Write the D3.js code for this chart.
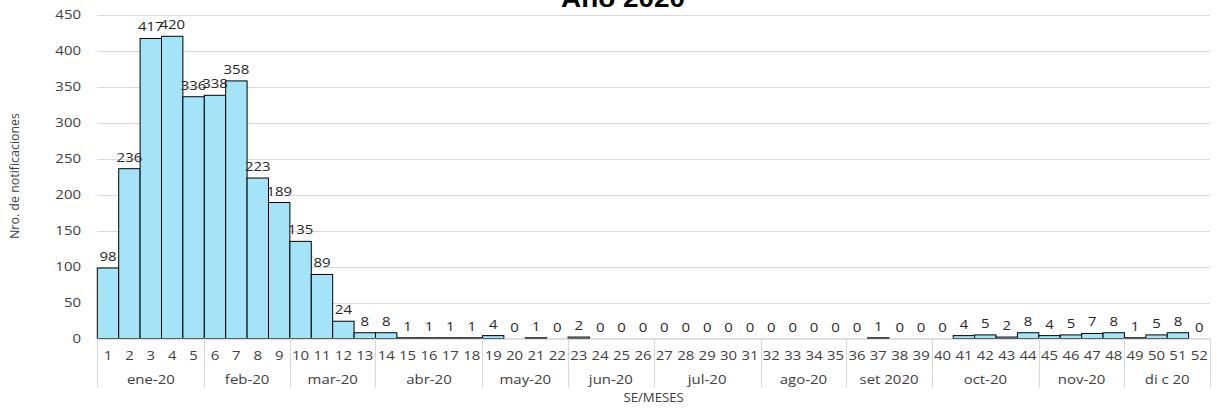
<!DOCTYPE html>
<html><head><meta charset="utf-8">
<script src="https://cdn.jsdelivr.net/npm/d3@7"></script>
<style>html,body{margin:0;padding:0;background:#fff;}svg{display:block;}</style>
</head><body>
<svg id="chart" width="1217" height="408"></svg>
<script>
const weeks = d3.range(1, 53).map(String);
const values = [98,236,417,420,336,338,358,223,189,135,89,24,8,8,1,1,1,1,4,0,1,0,2,0,0,0,0,0,0,0,0,0,0,0,0,0,1,0,0,0,4,5,2,8,4,5,7,8,1,5,8,0];
const months = ["ene-20","feb-20","mar-20","abr-20","may-20","jun-20","jul-20","ago-20","set 2020","oct-20","nov-20","di c 20"];
const monthWeeks = [5,4,4,5,4,4,5,4,4,5,4,4];
const yTicks = [0,50,100,150,200,250,300,350,400,450];
const title = "Año 2020";
const yTitle = "Nro. de notificaciones";
const xTitle = "SE/MESES";

(function () {
const svg = d3.select("#chart");
const pL = 97.3, pR = 1210, pT = 14.7, pB = 338.5;
const x = d3.scaleBand().domain(weeks).range([pL, pR]).padding(0);
const y = d3.scaleLinear().domain([0, 450]).range([pB, pT]);
const font = "'Open Sans', sans-serif";
const sx = 1.15;

// gridlines
svg.append("g").selectAll("line").data(yTicks.filter(d => d > 0)).join("line")
  .attr("x1", pL).attr("x2", pR)
  .attr("y1", d => Math.round(y(d)) + 0.5).attr("y2", d => Math.round(y(d)) + 0.5)
  .attr("stroke", "#d9d9d9").attr("stroke-width", 1);

// y tick labels
svg.append("g").selectAll("text").data(yTicks).join("text")
  .attr("transform", d => `translate(81,${y(d) + 4.6}) scale(${sx},1)`)
  .attr("text-anchor", "end").attr("font-family", font).attr("font-size", 13)
  .attr("fill", "#404040").text(d => d);

// bars
const data = weeks.map((w, i) => ({w, v: values[i]}));
svg.append("g").selectAll("rect").data(data.filter(d => d.v > 0)).join("rect")
  .attr("x", d => x(d.w)).attr("width", x.bandwidth())
  .attr("y", d => y(d.v)).attr("height", d => y(0) - y(d.v))
  .attr("fill", "#a5e3f9").attr("stroke", "#000").attr("stroke-width", 1);

// zero axis line
svg.append("line").attr("x1", pL).attr("x2", pR)
  .attr("y1", pB + 0.5).attr("y2", pB + 0.5)
  .attr("stroke", "#bfbfbf").attr("stroke-width", 1);

// value labels
svg.append("g").selectAll("text").data(data).join("text")
  .attr("transform", d => `translate(${x(d.w) + x.bandwidth() / 2},${y(d.v) - 7}) scale(${sx},1)`)
  .attr("text-anchor", "middle").attr("font-family", font).attr("font-size", 13)
  .attr("fill", "#262626").text(d => d.v);

// week labels
svg.append("g").selectAll("text").data(weeks).join("text")
  .attr("transform", d => `translate(${x(d) + x.bandwidth() / 2},360) scale(${sx},1)`)
  .attr("text-anchor", "middle").attr("font-family", font).attr("font-size", 13)
  .attr("fill", "#404040").text(d => d);

// month groups
let start = 0;
const groups = months.map((m, i) => { const g = {m, s: start, e: start + monthWeeks[i] - 1}; start += monthWeeks[i]; return g; });
const bounds = [x(weeks[0])].concat(groups.map(g => x(weeks[g.e]) + x.bandwidth()));
svg.append("g").selectAll("line").data(bounds).join("line")
  .attr("x1", d => Math.round(d) + 0.5).attr("x2", d => Math.round(d) + 0.5)
  .attr("y1", pB).attr("y2", 388)
  .attr("stroke", "#d9d9d9").attr("stroke-width", 1);
svg.append("g").selectAll("text").data(groups).join("text")
  .attr("transform", g => `translate(${(x(weeks[g.s]) + x(weeks[g.e]) + x.bandwidth()) / 2},384) scale(${sx},1)`)
  .attr("text-anchor", "middle").attr("font-family", font).attr("font-size", 13)
  .attr("fill", "#404040").text(g => g.m);

// axis titles
svg.append("text").attr("transform", `translate(${(pL + pR) / 2},402) scale(1.1,1)`)
  .attr("text-anchor", "middle").attr("font-family", font).attr("font-size", 12)
  .attr("fill", "#404040").text(xTitle);
svg.append("text").attr("transform", `translate(19,176) rotate(-90)`)
  .attr("text-anchor", "middle").attr("font-family", font).attr("font-size", 12)
  .attr("fill", "#404040").attr("textLength", 126).attr("lengthAdjust", "spacingAndGlyphs").text(yTitle);

// chart title
svg.append("text").attr("x", 623).attr("y", 7)
  .attr("text-anchor", "middle").attr("font-family", "'Liberation Sans', Arial, sans-serif")
  .attr("font-weight", "bold").attr("font-size", 25).attr("fill", "#000")
  .attr("textLength", 124).attr("lengthAdjust", "spacingAndGlyphs").text(title);
})();
</script>
</body></html>
